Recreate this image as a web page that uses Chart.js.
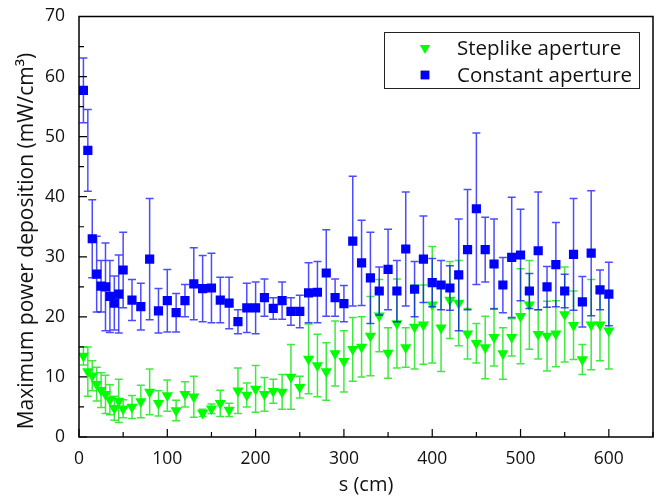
<!DOCTYPE html>
<html>
<head>
<meta charset="utf-8">
<script src="https://cdn.jsdelivr.net/npm/chart.js@4/dist/chart.umd.min.js"></script>
<style>
  html, body { margin: 0; padding: 0; background: #fff; }
  #wrap { width: 665px; height: 498px; }
</style>
</head>
<body>
<div id="wrap"><canvas id="chart" width="665" height="498"></canvas></div>
<script>
// position along the beam line, s (cm)
const sPositions = [5, 10, 15, 20, 25, 30, 35, 40, 45, 50,
    60, 70, 80, 90, 100, 110, 120, 130, 140, 150,
    160, 170, 180, 190, 200, 210, 220, 230, 240, 250,
    260, 270, 280, 290, 300, 310, 320, 330, 340, 350,
    360, 370, 380, 390, 400, 410, 420, 430, 440, 450,
    460, 470, 480, 490, 500, 510, 520, 530, 540, 550,
    560, 570, 580, 590, 600];

// Steplike aperture (mW/cm3) and error half-widths
const steplikeValues = [13.5, 10.9, 10.2, 8.8, 7.8, 7.1, 6.2, 4.8, 6.0, 4.7,
    5.0, 5.9, 7.5, 5.6, 6.9, 4.4, 7.1, 6.7, 4.0, 4.7,
    5.6, 4.5, 7.7, 7.0, 8.0, 7.1, 7.6, 7.5, 10.0, 8.3,
    13.0, 11.9, 10.9, 13.9, 12.6, 14.6, 15.0, 16.8, 20.2, 14.0,
    18.9, 14.9, 18.3, 18.7, 22.0, 18.2, 22.8, 22.3, 17.2, 15.6,
    14.9, 16.6, 13.9, 16.6, 20.1, 22.0, 17.1, 16.8, 17.2, 20.4,
    18.6, 12.9, 18.7, 18.7, 17.7];
const steplikeErrors = [1.5, 4.1, 2.5, 2.8, 2.9, 3.2, 2.5, 2.0, 3.6, 1.5,
    1.9, 2.7, 3.8, 2.1, 2.6, 1.7, 2.1, 3.4, 0.6, 0.8,
    2.2, 1.1, 3.8, 2.0, 3.9, 2.8, 2.0, 2.9, 5.4, 1.8,
    5.8, 5.2, 4.8, 5.4, 5.1, 5.3, 5.0, 6.6, 6.0, 4.2,
    7.4, 3.3, 7.0, 6.6, 9.7, 7.3, 6.4, 7.1, 4.2, 3.3,
    5.2, 4.8, 4.3, 3.1, 7.9, 7.4, 4.1, 5.8, 5.5, 7.9,
    5.7, 2.5, 7.5, 6.0, 6.4];

// Constant aperture (mW/cm3) and error half-widths
const constantValues = [57.7, 47.7, 33.0, 27.1, 25.1, 25.0, 23.4, 22.3, 23.8, 27.8,
    22.8, 21.7, 29.6, 21.0, 22.7, 20.7, 22.7, 25.5, 24.7, 24.8,
    22.8, 22.3, 19.2, 21.5, 21.5, 23.2, 21.4, 22.7, 20.9, 20.9,
    24.0, 24.1, 27.3, 23.2, 22.2, 32.6, 29.0, 26.5, 24.3, 27.9,
    24.3, 31.3, 24.6, 29.6, 25.7, 25.3, 24.8, 27.0, 31.2, 38.0,
    31.2, 28.8, 25.3, 29.9, 30.3, 24.3, 31.0, 25.0, 28.7, 24.3,
    30.4, 22.5, 30.6, 24.5, 23.8];
const constantErrors = [5.4, 6.8, 6.5, 6.3, 4.3, 7.3, 6.0, 4.5, 6.5, 6.3,
    3.4, 3.9, 10.1, 3.7, 5.2, 3.2, 2.7, 6.0, 5.5, 5.8,
    3.8, 4.3, 2.0, 4.1, 4.3, 3.1, 1.8, 3.1, 2.3, 2.7,
    5.0, 5.1, 7.2, 3.1, 3.0, 10.8, 7.1, 7.6, 4.0, 6.7,
    5.1, 9.5, 4.6, 7.2, 4.0, 4.1, 3.7, 9.3, 10.0, 12.6,
    5.4, 7.5, 4.6, 10.0, 7.6, 2.9, 9.8, 3.4, 7.0, 2.8,
    9.3, 4.2, 10.4, 3.3, 5.3];

const seriesNames = ["Steplike aperture", "Constant aperture"];
const yTitle = "Maximum power deposition (mW/cm\u00b3)";

const FONT = "'Open Sans', sans-serif";
const toPoints = (vals) => sPositions.map((s, i) => ({ x: s, y: vals[i] }));

// vertical error bars with caps, drawn just before each dataset's markers
const errorBarPlugin = {
    id: "errorBars",
    beforeDatasetDraw(chart, args) {
        const ds = chart.data.datasets[args.index];
        if (!ds.errors) return;
        const xs = chart.scales.x;
        const ys = chart.scales.y;
        const ctx = chart.ctx;
        ctx.save();
        ctx.strokeStyle = ds.errorColor;
        ctx.lineWidth = 1.5;
        ds.data.forEach((p, i) => {
            const px = xs.getPixelForValue(p.x);
            const top = ys.getPixelForValue(p.y + ds.errors[i]);
            const bot = ys.getPixelForValue(p.y - ds.errors[i]);
            ctx.beginPath();
            ctx.moveTo(px, top);
            ctx.lineTo(px, bot);
            ctx.moveTo(px - 4, top);
            ctx.lineTo(px + 4, top);
            ctx.moveTo(px - 4, bot);
            ctx.lineTo(px + 4, bot);
            ctx.stroke();
        });
        ctx.restore();
    }
};

// plot frame + inward ticks (major and minor) + y title
const framePlugin = {
    id: "frame",
    afterDraw(chart) {
        const { ctx, chartArea: a } = chart;
        ctx.save();
        ctx.strokeStyle = "#000";
        ctx.lineWidth = 1.5;
        ctx.strokeRect(a.left, a.top, a.right - a.left, a.bottom - a.top);
        ctx.lineWidth = 1.2;
        ctx.beginPath();
        chart.scales.x.ticks.forEach((t) => {
            const px = chart.scales.x.getPixelForValue(t.value);
            const len = t.value % 100 === 0 ? 8 : 5;
            ctx.moveTo(px, a.bottom);
            ctx.lineTo(px, a.bottom - len);
        });
        chart.scales.y.ticks.forEach((t) => {
            const py = chart.scales.y.getPixelForValue(t.value);
            const len = t.value % 10 === 0 ? 8 : 5;
            ctx.moveTo(a.left, py);
            ctx.lineTo(a.left + len, py);
        });
        ctx.stroke();

        // y axis title, a bit below the middle like the original
        ctx.translate(27, 241);
        ctx.rotate(-Math.PI / 2);
        ctx.font = "21px " + FONT;
        ctx.fillStyle = "#111";
        ctx.textAlign = "center";
        ctx.textBaseline = "middle";
        ctx.fillText(yTitle, 0, 0);
        ctx.restore();
    }
};

// legend box in the top right corner of the plot
const legendBoxPlugin = {
    id: "legendBox",
    afterDraw(chart) {
        const ctx = chart.ctx;
        const bx = 384, by = 32, bw = 255, bh = 56;
        ctx.save();
        ctx.fillStyle = "#fff";
        ctx.fillRect(bx, by, bw, bh);
        ctx.strokeStyle = "#222";
        ctx.lineWidth = 1;
        ctx.strokeRect(bx + 0.5, by + 0.5, bw, bh);
        ctx.font = "20.5px " + FONT;
        ctx.textBaseline = "middle";
        const rows = [chart.data.datasets[1], chart.data.datasets[0]];
        rows.forEach((ds, i) => {
            const y = by + 16 + i * 27;
            ctx.beginPath();
            Chart.helpers.drawPoint(ctx, {
                pointStyle: ds.pointStyle,
                radius: 6,
                rotation: ds.rotation || 0,
                borderWidth: 0
            }, 425, y);
            ctx.fillStyle = ds.backgroundColor;
            ctx.fill();
            ctx.fillStyle = "#111";
            ctx.fillText(ds.label, 457, y + 1);
        });
        ctx.restore();
    }
};

Chart.defaults.font.family = FONT;
Chart.defaults.color = "#111";

new Chart(document.getElementById("chart"), {
    type: "scatter",
    data: {
        datasets: [
            {
                label: seriesNames[1],
                data: toPoints(constantValues),
                errors: constantErrors,
                errorColor: "rgba(0, 0, 255, 0.7)",
                pointStyle: "rect",
                pointRadius: 6.5,
                backgroundColor: "#0000ff",
                borderColor: "#0000ff",
                borderWidth: 0,
                order: 0
            },
            {
                label: seriesNames[0],
                data: toPoints(steplikeValues),
                errors: steplikeErrors,
                errorColor: "rgba(0, 225, 0, 0.75)",
                pointStyle: "triangle",
                rotation: 180,
                pointRadius: 6.5,
                backgroundColor: "#00ff00",
                borderColor: "#00ff00",
                borderWidth: 0,
                order: 1
            }
        ]
    },
    options: {
        responsive: false,
        animation: false,
        layout: { padding: { left: 0, top: 12, right: 12, bottom: 0 } },
        plugins: {
            legend: { display: false },
            tooltip: { enabled: false }
        },
        scales: {
            x: {
                type: "linear",
                min: 0,
                max: 650,
                grid: { display: false },
                border: { display: false },
                ticks: {
                    stepSize: 50,
                    padding: 4,
                    maxRotation: 0,
                    font: { size: 17.5 },
                    callback: (v) => (v % 100 === 0 ? v : "")
                },
                title: {
                    display: true,
                    text: "s (cm)",
                    font: { size: 20 },
                    padding: { top: 1, bottom: 1 }
                },
                afterFit: (scale) => { scale.height = 61; }
            },
            y: {
                type: "linear",
                min: 0,
                max: 70,
                grid: { display: false },
                border: { display: false },
                ticks: {
                    stepSize: 5,
                    padding: 6,
                    font: { size: 17.5 },
                    callback: (v) => (v % 10 === 0 ? v : "")
                },
                title: { display: false },
                afterFit: (scale) => { scale.width = 79; }
            }
        }
    },
    plugins: [errorBarPlugin, framePlugin, legendBoxPlugin]
});
</script>
</body>
</html>
